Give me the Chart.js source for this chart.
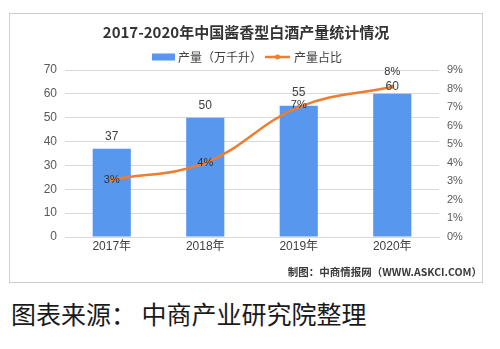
<!DOCTYPE html>
<html>
<head>
<meta charset="utf-8">
<script src="https://cdn.jsdelivr.net/npm/chart.js@4/dist/chart.umd.min.js"></script>
<style>
  html, body { margin: 0; padding: 0; background: #fff; }
  body { width: 500px; height: 349px; position: relative; overflow: hidden; }
  #box {
    position: absolute; left: 9px; top: 13px; width: 474px; height: 270px;
    border: 1px solid #cfcfcf; box-sizing: border-box;
  }
  #box canvas { display: block; }
  #source {
    position: absolute; left: 11px; top: 301px;
    font: 25px/25px 'Noto Sans CJK SC', sans-serif; color: #1a1a1a;
    white-space: pre;
  }
</style>
</head>
<body>
<div id="box"><canvas id="chart" width="472" height="268"></canvas></div>
<div id="source">图表来源： 中商产业研究院整理</div>
<script>
'use strict';

const years = ['2017年', '2018年', '2019年', '2020年'];
const output = [37, 50, 55, 60];        // 产量（万千升）
const share = [3.1, 4.0, 7.0, 8.1];     // 产量占比 (%)

const barColor = '#5897ee';
const lineColor = '#ed7d31';
const textColor = '#404040';
const baseFont = "'Liberation Sans', 'Noto Sans CJK SC', sans-serif";
const cjkFont = "'Noto Sans CJK SC', sans-serif";

// vertical nudge of the value labels, in pixels
const outputLabelShift = [-12, -12, -13, -7];
const shareLabelShift = [0, 0, -2, -15];

const legendPlugin = {
  id: 'customLegend',
  afterDraw(chart) {
    const ctx = chart.ctx;
    const y = 43;
    ctx.save();
    ctx.font = '12px ' + cjkFont;
    ctx.textBaseline = 'middle';
    ctx.fillStyle = barColor;
    ctx.fillRect(142, y - 3.5, 23, 7);
    ctx.fillStyle = textColor;
    ctx.fillText(chart.data.datasets[0].label, 168, y);
    ctx.strokeStyle = lineColor;
    ctx.lineWidth = 2.5;
    ctx.beginPath();
    ctx.moveTo(255, y);
    ctx.lineTo(280, y);
    ctx.stroke();
    ctx.fillStyle = lineColor;
    ctx.beginPath();
    ctx.arc(267.5, y, 2.5, 0, Math.PI * 2);
    ctx.fill();
    ctx.fillStyle = textColor;
    ctx.fillText(chart.data.datasets[1].label, 284, y);
    ctx.restore();
  },
};

const labelPlugin = {
  id: 'valueLabels',
  afterDatasetsDraw(chart) {
    const ctx = chart.ctx;
    ctx.save();
    ctx.textAlign = 'center';
    ctx.textBaseline = 'middle';
    ctx.fillStyle = textColor;

    ctx.font = '12px ' + baseFont;
    chart.getDatasetMeta(0).data.forEach((bar, i) => {
      ctx.fillText(String(output[i]), bar.x, bar.y + outputLabelShift[i]);
    });

    ctx.font = '11px ' + baseFont;
    ctx.fillStyle = '#333';
    chart.getDatasetMeta(1).data.forEach((pt, i) => {
      ctx.fillText(Math.round(share[i]) + '%', pt.x, pt.y + shareLabelShift[i]);
    });

    // source note, bottom right
    ctx.textAlign = 'right';
    ctx.font = 'bold 10.5px ' + cjkFont;
    ctx.fillStyle = '#3a3a3a';
    ctx.fillText('制图：中商情报网（WWW.ASKCI.COM）', 472, 258);
    ctx.restore();
  },
};

new Chart(document.getElementById('chart'), {
  data: {
    labels: years,
    datasets: [
      {
        type: 'bar',
        label: '产量（万千升）',
        data: output,
        yAxisID: 'y',
        backgroundColor: barColor,
        categoryPercentage: 0.8,
        barPercentage: 0.51,
        order: 1,
      },
      {
        type: 'line',
        label: '产量占比',
        data: share,
        yAxisID: 'y1',
        borderColor: lineColor,
        backgroundColor: lineColor,
        borderWidth: 2.5,
        tension: 0.4,
        pointRadius: 2,
        pointBorderWidth: 0,
        order: 0,
      },
    ],
  },
  options: {
    responsive: false,
    animation: false,
    layout: { padding: 0 },
    plugins: {
      legend: { display: false },
      tooltip: { enabled: false },
      title: {
        display: true,
        text: '2017-2020年中国酱香型白酒产量统计情况',
        color: '#333',
        font: { family: cjkFont, size: 15, weight: 'bold' },
        padding: { top: 9, bottom: 29 },
      },
    },
    scales: {
      x: {
        offset: true,
        grid: { display: false, drawTicks: false },
        border: { display: true, color: '#d9d9d9' },
        ticks: { color: textColor, font: { family: baseFont, size: 12 }, padding: 2 },
        afterFit: (scale) => { scale.height = 45; },
      },
      y: {
        position: 'left',
        min: 0,
        max: 70,
        ticks: { stepSize: 10, color: '#595959', font: { family: baseFont, size: 12 }, padding: 8 },
        grid: { color: '#d9d9d9', drawTicks: false },
        border: { display: false },
        afterFit: (scale) => { scale.width = 55; },
      },
      y1: {
        position: 'right',
        min: 0,
        max: 9,
        ticks: {
          stepSize: 1,
          color: '#595959',
          font: { family: baseFont, size: 11 },
          padding: 8,
          callback: (v) => v + '%',
        },
        grid: { display: false, drawTicks: false },
        border: { display: false },
        afterFit: (scale) => { scale.width = 43; },
      },
    },
  },
  plugins: [legendPlugin, labelPlugin],
});
</script>
</body>
</html>
